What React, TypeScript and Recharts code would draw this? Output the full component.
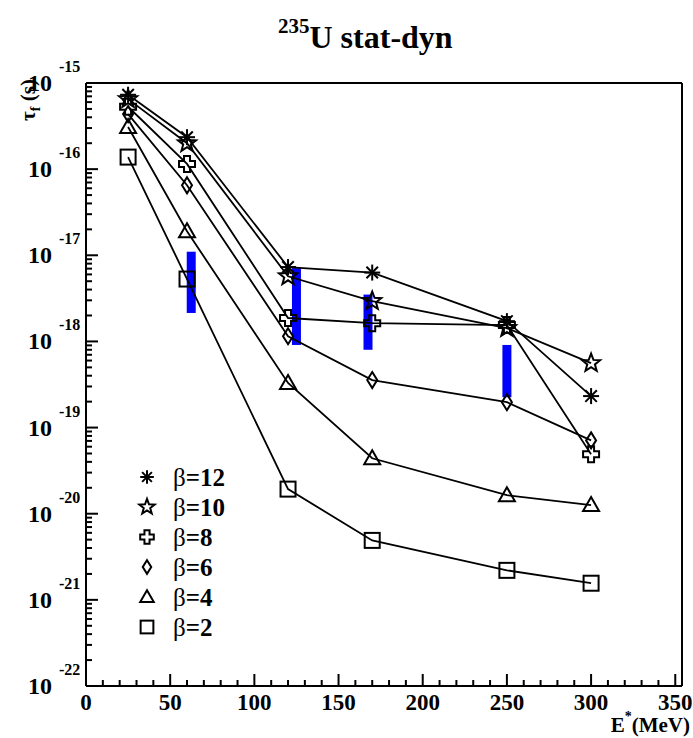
import React from "react"
import { ComposedChart, Line, XAxis, YAxis, ReferenceLine, Legend } from "recharts"

// excitation energies (MeV)
const energies = [25, 60, 120, 170, 250, 300]

// fission times tau_f (s) per friction value
const tauBeta12 = [7.3e-16, 2.35e-16, 7.3e-18, 6.3e-18, 1.72e-18, 2.32e-19]
const tauBeta10 = [6.5e-16, 2.0e-16, 5.7e-18, 2.94e-18, 1.43e-18, 5.6e-19]
const tauBeta8 = [5.3e-16, 1.15e-16, 1.87e-18, 1.63e-18, 1.55e-18, 4.9e-20]
const tauBeta6 = [4.36e-16, 6.5e-17, 1.15e-18, 3.56e-19, 1.97e-19, 7.1e-20]
const tauBeta4 = [3.08e-16, 1.9e-17, 3.3e-19, 4.4e-20, 1.64e-20, 1.26e-20]
const tauBeta2 = [1.38e-16, 5.3e-18, 1.93e-20, 4.9e-21, 2.2e-21, 1.56e-21]

// experimental bands (blue)
const bandEnergies = [62.5, 125, 167.5, 250]
const bandLow = [2.14e-18, 9.1e-19, 8.0e-19, 2.25e-19]
const bandHigh = [1.1e-17, 7.1e-18, 3.5e-18, 9.1e-19]

const xTicks = Array.from({ length: 36 }, (_, i) => i * 10)
const yDecades = [-22, -21, -20, -19, -18, -17, -16, -15]

const series = [
  { key: "b12", label: "12", values: tauBeta12, marker: "asterisk" },
  { key: "b10", label: "10", values: tauBeta10, marker: "star" },
  { key: "b8", label: "8", values: tauBeta8, marker: "cross" },
  { key: "b6", label: "6", values: tauBeta6, marker: "diamond" },
  { key: "b4", label: "4", values: tauBeta4, marker: "triangle" },
  { key: "b2", label: "2", values: tauBeta2, marker: "square" },
]

const rows = energies.map((e, i) => {
  const row: Record<string, number> = { e }
  series.forEach((s) => (row[s.key] = s.values[i]))
  return row
})

const yTicks: number[] = []
yDecades.forEach((d, i) => {
  yTicks.push(Math.pow(10, d))
  if (i < yDecades.length - 1) {
    for (let m = 2; m <= 9; m++) yTicks.push(m * Math.pow(10, d))
  }
})

const FONT = "'Liberation Serif', 'Times New Roman', serif"

function Marker({ kind, cx, cy, s = 1 }: { kind: string; cx: number; cy: number; s?: number }) {
  const st = { fill: "none", stroke: "#000", strokeWidth: 2 }
  if (cx == null || cy == null || isNaN(cx) || isNaN(cy)) return null
  const pts = (arr: number[][]) => arr.map(([x, y]) => `${cx + x * s},${cy + y * s}`).join(" ")
  switch (kind) {
    case "asterisk": {
      const r = 8 * s
      const d = r * 0.72
      return (
        <g {...st}>
          <line x1={cx - r} y1={cy} x2={cx + r} y2={cy} />
          <line x1={cx} y1={cy - r} x2={cx} y2={cy + r} />
          <line x1={cx - d} y1={cy - d} x2={cx + d} y2={cy + d} />
          <line x1={cx - d} y1={cy + d} x2={cx + d} y2={cy - d} />
        </g>
      )
    }
    case "star": {
      const p: number[][] = []
      for (let i = 0; i < 10; i++) {
        const r = i % 2 === 0 ? 9.5 : 4
        const a = -Math.PI / 2 + (i * Math.PI) / 5
        p.push([r * Math.cos(a), r * Math.sin(a)])
      }
      return <polygon points={pts(p)} {...st} />
    }
    case "cross": {
      const a = 3
      const b = 8
      return (
        <polygon
          points={pts([
            [-a, -b], [a, -b], [a, -a], [b, -a], [b, a], [a, a],
            [a, b], [-a, b], [-a, a], [-b, a], [-b, -a], [-a, -a],
          ])}
          {...st}
        />
      )
    }
    case "diamond":
      return <polygon points={pts([[0, -8], [5, 0], [0, 8], [-5, 0]])} {...st} />
    case "triangle":
      return <polygon points={pts([[0, -8], [8, 6], [-8, 6]])} {...st} />
    default:
      return <rect x={cx - 7.5 * s} y={cy - 7.5 * s} width={15 * s} height={15 * s} {...st} />
  }
}

function XTick(props: any) {
  const { x, y, payload } = props
  const v = payload.value
  const major = v % 50 === 0
  return (
    <g>
      <line x1={x} y1={y} x2={x} y2={y - (major ? 12 : 6)} stroke="#000" strokeWidth={2} />
      {major && (
        <text x={x} y={y + 24} textAnchor="middle" fontFamily={FONT} fontWeight="bold" fontSize={23} fill="#000">
          {v}
        </text>
      )}
    </g>
  )
}

function YTick(props: any) {
  const { x, y, payload } = props
  const lg = Math.log10(payload.value)
  const major = Math.abs(lg - Math.round(lg)) < 1e-6
  return (
    <g>
      <line x1={x} y1={y} x2={x + (major ? 12 : 6)} y2={y} stroke="#000" strokeWidth={2} />
      {major && (
        <g fontFamily={FONT} fontWeight="bold" fill="#000">
          <text x={x - 34} y={y + 8} textAnchor="end" fontSize={24}>10</text>
          <text x={x - 27} y={y - 11} fontSize={16}>{Math.round(lg)}</text>
        </g>
      )}
    </g>
  )
}

function BetaLegend() {
  return (
    <svg width={170} height={190}>
      {series.map((s, i) => (
        <g key={s.key}>
          <Marker kind={s.marker} cx={27} cy={22 + i * 30} s={0.85} />
          <text x={53} y={31 + i * 30} fontFamily={FONT} fontWeight="bold" fontSize={25} fill="#000">
            <tspan fontWeight="normal">β</tspan>={s.label}
          </text>
        </g>
      ))}
    </svg>
  )
}

export default function App() {
  return (
    <div style={{ position: "absolute", left: 0, top: 0, width: 693, height: 738, background: "#fff" }}>
      <ComposedChart width={693} height={738} data={rows} margin={{ top: 83, right: 11, bottom: 0, left: 0 }}>
        <XAxis
          type="number"
          dataKey="e"
          domain={[0, 354]}
          ticks={xTicks}
          interval={0}
          allowDataOverflow
          tickSize={0}
          tickMargin={0}
          tickLine={false}
          axisLine={{ stroke: "#000", strokeWidth: 2 }}
          tick={<XTick />}
          height={52}
        />
        <YAxis
          type="number"
          scale="log"
          domain={[1e-22, 1e-15]}
          ticks={yTicks}
          interval={0}
          allowDataOverflow
          tickSize={0}
          tickMargin={0}
          tickLine={false}
          axisLine={{ stroke: "#000", strokeWidth: 2 }}
          tick={<YTick />}
          width={86}
        />
        <ReferenceLine y={1e-15} stroke="#000" strokeWidth={2} />
        <ReferenceLine x={354} stroke="#000" strokeWidth={2} />
        {bandEnergies.map((e, i) => (
          <Line
            key={`band-${i}`}
            data={[{ e, v: bandLow[i] }, { e, v: bandHigh[i] }]}
            dataKey="v"
            stroke="#0000ff"
            strokeWidth={9}
            dot={false}
            activeDot={false}
            isAnimationActive={false}
          />
        ))}
        {series.map((s) => (
          <Line
            key={s.key}
            dataKey={s.key}
            type="linear"
            stroke="#000"
            strokeWidth={1.8}
            dot={(p: any) => <Marker key={`${s.key}-${p.index}`} kind={s.marker} cx={p.cx} cy={p.cy} />}
            activeDot={false}
            isAnimationActive={false}
          />
        ))}
        <Legend
          layout="horizontal"
          verticalAlign="middle"
          align="center"
          content={() => <BetaLegend />}
          wrapperStyle={{ left: 120, top: 455, width: 170, height: 190 }}
        />
      </ComposedChart>
      <svg
        width={693}
        height={738}
        style={{ position: "absolute", left: 0, top: 0, pointerEvents: "none" }}
        fontFamily={FONT}
        fontWeight="bold"
        fill="#000"
      >
        <text x={278} y={48} fontSize={32}>
          <tspan fontSize={21} dy={-15}>235</tspan>
          <tspan dy={15}>U stat-dyn</tspan>
        </text>
        <text transform="translate(35,100) rotate(-90)" textAnchor="middle" fontSize={21}>
          τ<tspan fontSize={14} dy={5}>f</tspan>
          <tspan dy={-5}> (s)</tspan>
        </text>
        <text x={690} y={732} textAnchor="end" fontSize={21}>
          E<tspan fontSize={14} dy={-11}>*</tspan>
          <tspan dy={11}>(MeV)</tspan>
        </text>
      </svg>
    </div>
  )
}
